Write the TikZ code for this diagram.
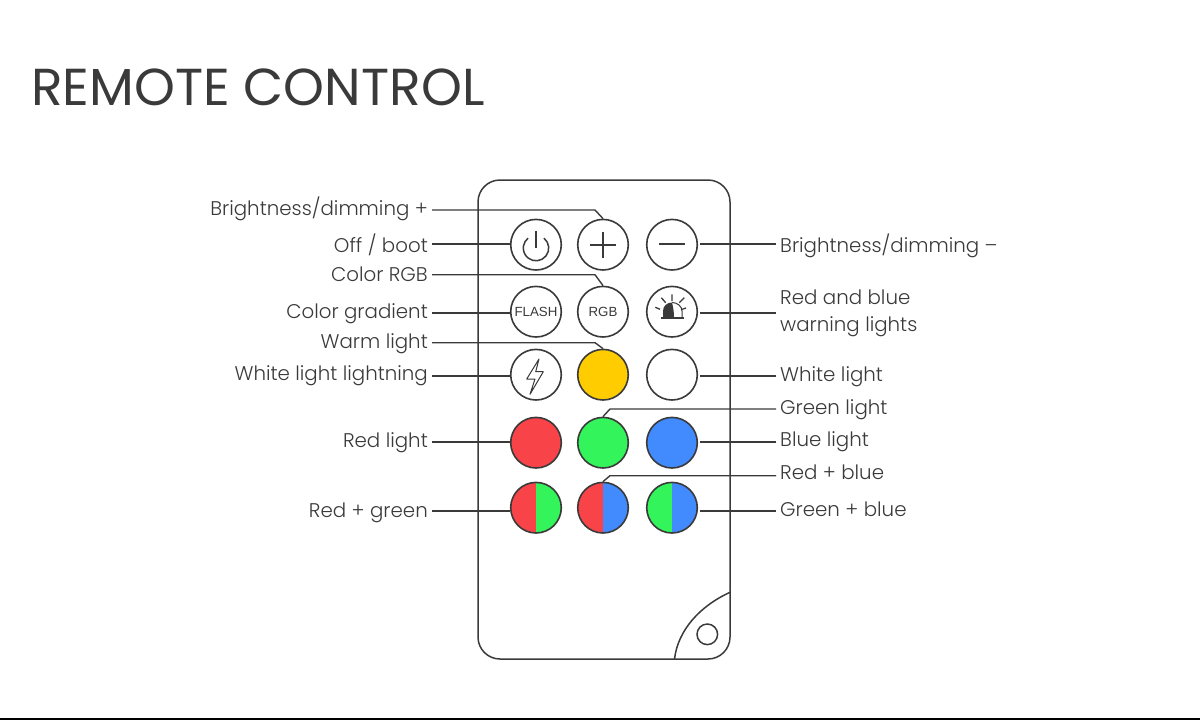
\documentclass[tikz,border=0pt]{standalone}
\usepackage{fontspec}
\setmainfont{Poppins}[UprightFont=* Light]
\newfontfamily\titlefont{Poppins}
\newfontfamily\btnfont{Liberation Sans}
\definecolor{inkgray}{HTML}{3A3A3A}
\definecolor{ledred}{HTML}{F84448}
\definecolor{ledgreen}{HTML}{33F45B}
\definecolor{ledblue}{HTML}{428BFF}
\definecolor{ledyellow}{HTML}{FFCC00}
\tikzset{
  btn/.style={circle,draw=inkgray,line width=1.6pt,minimum size=50.6pt,inner sep=0pt,fill=#1},
  btn/.default=white,
  btnsplit/.style 2 args={btn,path picture={
    \fill[#1] (path picture bounding box.south west) rectangle (path picture bounding box.north);
    \fill[#2] (path picture bounding box.south) rectangle (path picture bounding box.north east);}},
  btntext/.style={btn,text=inkgray,font=\btnfont\fontsize{13.3}{13}\selectfont},
  lblleft/.style={anchor=base east,inner xsep=4pt,inner ysep=0pt,text=inkgray,font=\fontsize{19.8}{27}\selectfont},
  lblright/.style={anchor=base west,inner xsep=4pt,inner ysep=0pt,text=inkgray,align=left,font=\fontsize{19.8}{27}\selectfont},
  wire/.style={draw=inkgray,line width=1.8pt},
  elbow/.style={draw=inkgray,line width=1.4pt,line join=round},
  shell/.style={draw=inkgray,line width=1.5pt},
}
\begin{document}
\begin{tikzpicture}[x=1pt,y=-1pt,line cap=butt]
\useasboundingbox (0,0) rectangle (1200,721);
\node[anchor=west,inner sep=0pt,text=inkgray,font=\titlefont\fontsize{52}{52}\selectfont] (title) at (31,87) {REMOTE CONTROL};
\draw[black,line width=2pt] (0,719) -- (1200,719);
% remote body
\draw[shell,rounded corners=22pt] (478,180) rectangle (730,659);
\draw[shell] (674.5,659) .. controls (678,630) and (700,606) .. (730,592.3);
\draw[shell] (707.3,634.3) circle (10.3);
% buttons
\node[btn] (btnpower) at (536,244.7) {};
\node[btn] (btnplus) at (603,244.7) {};
\node[btn] (btnminus) at (672,244.7) {};
\node[btntext] (btnflash) at (536,311.7) {FLASH};
\node[btntext] (btnrgb) at (603,311.7) {RGB};
\node[btn] (btnalarm) at (672,311.7) {};
\node[btn] (btnbolt) at (536,374.7) {};
\node[btn=ledyellow] (btnwarm) at (603,374.7) {};
\node[btn] (btnwhite) at (672,374.7) {};
\node[btn=ledred] (btnred) at (536,442.7) {};
\node[btn=ledgreen] (btngreen) at (603,442.7) {};
\node[btn=ledblue] (btnblue) at (672,442.7) {};
\node[btnsplit={ledred}{ledgreen}] (btnrg) at (536,507.7) {};
\node[btnsplit={ledred}{ledblue}] (btnrb) at (603,507.7) {};
\node[btnsplit={ledgreen}{ledblue}] (btngb) at (672,507.7) {};
% icons
\draw[shell] (536,230.5) -- (536,248);
\draw[shell] (544,238.2) arc[start angle=-51,end angle=231,radius=12.7];
\draw[shell,line width=1.7pt] (590,244.7) -- (616,244.7) (603,232) -- (603,257.7);
\draw[shell,line width=1.7pt] (659,244.2) -- (685,244.2);
\draw[inkgray,line width=1pt,line join=round] (539,359) -- (526.7,379) -- (535,379) -- (530,394.3) -- (543.3,371.7) -- (535.7,371.7) -- cycle;
\draw[inkgray,line width=1.3pt] (672,294.3) -- (672,301) (661.3,297.7) -- (665.7,302.7) (684.3,297.7) -- (679.3,302.7) (655.3,307.3) -- (660,309.3) (686,308) -- (681,309.7);
\fill[inkgray] (663,317) -- (663,311) .. controls (663,306) and (667,302.5) .. (672,302.5) .. controls (673,306) and (674,312) .. (674,317) -- cycle;
\draw[inkgray,line width=1pt] (672,302.5) .. controls (677,302.5) and (682,306) .. (682,311) -- (682,317);
\draw[inkgray,line width=1.6pt] (661,318) -- (684,318);
% labels
\node[lblleft] (lblplus) at (432,215) {Brightness/dimming +};
\node[lblleft] (lbloff) at (432,252) {Off / boot};
\node[lblleft] (lblrgb) at (432,281) {Color RGB};
\node[lblleft] (lblgradient) at (432,318) {Color gradient};
\node[lblleft] (lblwarm) at (432,348) {Warm light};
\node[lblleft] (lblbolt) at (432,380) {White light lightning};
\node[lblleft] (lblred) at (432,447) {Red light};
\node[lblleft] (lblrg) at (432,517) {Red + green};
\node[lblright] (lblminus) at (776,252) {Brightness/dimming --};
\node[lblright,anchor=west] (lblwarning) at (776,313) {Red and blue\\warning lights};
\node[lblright] (lblwhite) at (776,381) {White light};
\node[lblright] (lblgreen) at (776,414) {Green light};
\node[lblright] (lblblue) at (776,446) {Blue light};
\node[lblright] (lblrb) at (776,479) {Red + blue};
\node[lblright] (lblgb) at (776,516) {Green + blue};
% connectors
\draw[elbow] ([yshift=5pt]lblplus.base east) -- ++(163,0) -- (btnplus.north);
\draw[elbow] ([yshift=6.3pt]lblrgb.base east) -- ++(163,0) -- (btnrgb.north);
\draw[elbow] ([yshift=5.3pt]lblwarm.base east) -- ++(163,0) -- (btnwarm.north);
\draw[elbow] ([yshift=5pt]lblgreen.base west) -- ++(-166,0) -- (btngreen.north);
\draw[elbow] ([yshift=3.3pt]lblrb.base west) -- ++(-166,0) -- (btnrb.north);
\foreach \a/\b/\dy in {lbloff/btnpower/8.3,lblgradient/btnflash/5.3,lblbolt/btnbolt/4.3,lblred/btnred/5,lblrg/btnrg/6}
  \draw[wire] ([yshift=\dy pt]\a.base east) coordinate (p) -- (\b.west |- p);
\foreach \a/\b/\dy in {lblminus/btnminus/8.3,lblwhite/btnwhite/5.3,lblblue/btnblue/4,lblgb/btngb/5}
  \draw[wire,shorten >=1.5pt] ([yshift=\dy pt]\a.base west) coordinate (p) -- (\b.east |- p);
\draw[wire,shorten >=1.5pt] (lblwarning.west) -- (btnalarm.east |- lblwarning.west);
\end{tikzpicture}
\end{document}
